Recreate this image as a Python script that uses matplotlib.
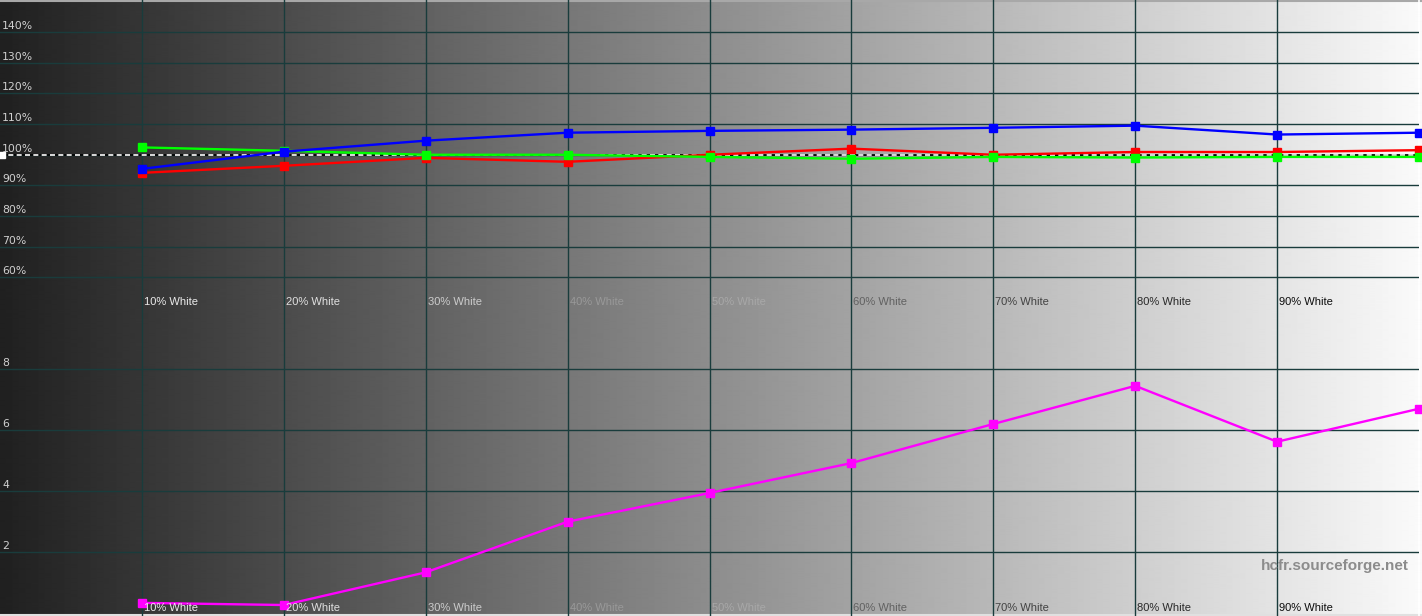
import numpy as np
import matplotlib
matplotlib.use("Agg")
import matplotlib.pyplot as plt
from matplotlib.transforms import blended_transform_factory as blend

# ---- data ----
levels = [10, 20, 30, 40, 50, 60, 70, 80, 90, 100]
level_labels = ["10% White", "20% White", "30% White", "40% White", "50% White",
                "60% White", "70% White", "80% White", "90% White"]
red = [94.1, 96.4, 99.0, 97.7, 100.0, 102.0, 100.0, 100.9, 100.9, 101.5]
green = [102.4, 101.3, 100.0, 100.0, 99.3, 98.7, 99.3, 99.1, 99.3, 99.3]
blue = [95.4, 101.0, 104.6, 107.2, 107.8, 108.2, 108.8, 109.5, 106.6, 107.2]
delta_e = [0.34, 0.27, 1.34, 3.0, 3.94, 4.92, 6.2, 7.45, 5.62, 6.7]
top_ticks = [60, 70, 80, 90, 100, 110, 120, 130, 140]
top_tick_labels = ["60%", "70%", "80%", "90%", "100%", "110%", "120%", "130%", "140%"]
bot_ticks = [2, 4, 6, 8]
bot_tick_labels = ["2", "4", "6", "8"]

# label grey level for each x label (style)
label_greys = [0.92, 0.88, 0.80, 0.60, 0.66, 0.38, 0.26, 0.16, 0.05]

W, H = 1422, 616
fig = plt.figure(figsize=(W / 100, H / 100), dpi=100)

# background gradient
bg = fig.add_axes([0, 0, 1, 1])
grad = np.linspace(32, 250, W) / 255.0
img = np.tile(grad, (2, 1))
bg.imshow(img, cmap="gray", vmin=0, vmax=1, aspect="auto", extent=[0, 1, 0, 1],
          interpolation="bilinear")
bg.set_xlim(0, 1)
bg.set_ylim(0, 1)
bg.axis("off")
# frame lines
bg.plot([0, 1], [1 - 1 / H, 1 - 1 / H], color="#a8a8a8", lw=1.5, solid_capstyle="butt")
bg.plot([0, 1], [1.5 / H, 1.5 / H], color="#e0e0e0", lw=1.5, solid_capstyle="butt")
bg.plot([1419 / W, 1419 / W], [0, 1], color="#ffffff", lw=1.2)

axw = 1419 / W
ax_top = fig.add_axes([0, 0.5, axw, 0.5])
ax_bot = fig.add_axes([0, 0, axw, 0.5])
for ax in (ax_top, ax_bot):
    ax.patch.set_alpha(0)
    ax.set_xlim(0, 100)
    ax.axis("off")

ax_top.set_ylim(50, 150.5)
ax_bot.set_ylim(-0.09, 10)

gridc = "#193c3c"
for ax, ticks in ((ax_top, top_ticks), (ax_bot, bot_ticks)):
    for t in ticks:
        ax.axhline(t, color=gridc, lw=1.0, zorder=1)
    for x in levels[:-1]:
        ax.axvline(x, color=gridc, lw=1.0, zorder=1)

# y tick labels
for ax, ticks, labs in ((ax_top, top_ticks, top_tick_labels), (ax_bot, bot_ticks, bot_tick_labels)):
    tr = blend(ax.transAxes, ax.transData)
    for t, lab in zip(ticks, labs):
        ax.annotate(lab, xy=(0, t), xycoords=tr, xytext=(2, 1), textcoords="offset pixels",
                    ha="left", va="bottom", fontsize=7.8, color="#d0d0d0",
                    family="DejaVu Sans", zorder=5)

# x labels
for ax, yfrac in ((ax_top, 0.021), (ax_bot, 0.027)):
    tr = blend(ax.transData, ax.transAxes)
    for x, lab, g in zip(levels[:-1], level_labels, label_greys):
        ax.annotate(lab, xy=(x, yfrac), xycoords=tr, xytext=(2, 0), textcoords="offset pixels",
                    ha="left", va="center", fontsize=8, color=(g, g, g),
                    family="Liberation Sans", zorder=5)

# reference line at 100%
ax_top.axhline(100, color="black", lw=1.2, zorder=2)
ax_top.axhline(100, color="white", lw=1.2, ls=(0, (3, 2)), zorder=2.1)
ax_top.plot([0.15], [100], marker="s", ms=4, color="white", zorder=3, clip_on=False)

ms = 6
lw = 1.7
ax_top.plot(levels, red, color="#ff0000", lw=lw, marker="s", ms=ms, zorder=3, clip_on=False)
ax_top.plot(levels, green, color="#00ff00", lw=lw, marker="s", ms=ms, zorder=3.1, clip_on=False)
ax_top.plot(levels, blue, color="#0000ff", lw=lw, marker="s", ms=ms, zorder=3.2, clip_on=False)

ax_bot.plot(levels, delta_e, color="#ff00ff", lw=lw, marker="s", ms=ms, zorder=3, clip_on=False)

# watermark
fig.text(1409 / W, 1 - 566 / H, "hcfr.sourceforge.net", ha="right", va="center",
         fontsize=11, fontweight="bold", color="#8c8c8c", family="Liberation Sans")

fig.savefig("out.png", dpi=100)
